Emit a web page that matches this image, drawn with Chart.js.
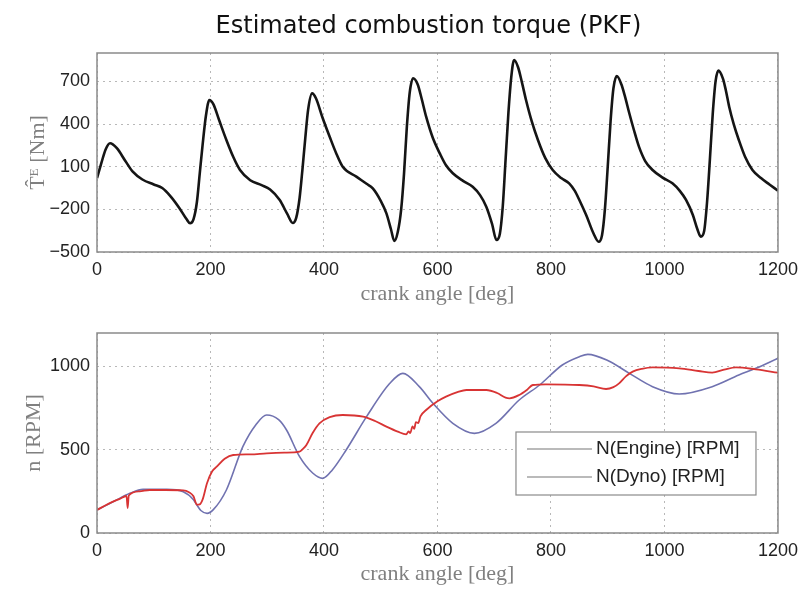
<!DOCTYPE html>
<html>
<head>
<meta charset="utf-8">
<title>Estimated combustion torque (PKF)</title>
<script src="https://cdn.jsdelivr.net/npm/chart.js@4.4.1/dist/chart.umd.min.js"></script>
<style>
  html, body { margin: 0; padding: 0; background: #fff; }
  #wrap { position: relative; width: 805px; height: 590px; }
  canvas { position: absolute; left: 0; }
  #torqueChart { top: 0; }
  #speedChart { top: 310px; }
  #plotTitle {
    position: absolute; left: 0; top: 11px; width: 857px; text-align: center;
    font: 24px/28px "DejaVu Sans", sans-serif; color: #111; white-space: nowrap;
  }
</style>
</head>
<body>
<div id="wrap">
  <canvas id="torqueChart" width="805" height="310"></canvas>
  <canvas id="speedChart" width="805" height="280"></canvas>
  <div id="plotTitle">Estimated combustion torque (PKF)</div>
</div>
<script>
// --- data ---
const angleTicks = [0, 200, 400, 600, 800, 1000, 1200];
const torqueTicks = [-500, -200, 100, 400, 700];
const rpmTicks = [0, 500, 1000];

// estimated combustion torque [Nm] vs crank angle [deg]
const torqueAngle = [0, 8, 15, 23, 35, 50, 63, 80, 100, 115, 130, 145, 158, 164,
  170, 176, 181, 186, 192, 198, 205, 215, 228, 240, 252, 270, 290, 305, 322, 335, 345,
  351, 357, 362, 367, 372, 379, 386, 397, 410, 422, 433, 457, 475, 486, 500, 510, 518, 524,
  530, 536, 541, 546, 551, 557, 565, 572, 580, 592, 604, 615, 627, 645, 662, 675, 686, 696, 704,
  710, 715, 720, 725, 730, 735, 742, 749, 756, 766, 777, 790, 803, 818, 832, 842, 850, 862, 875, 884,
  890, 895, 900, 905, 910, 916, 924, 930, 938, 946, 955, 966, 979, 996, 1014, 1027, 1038, 1050, 1058, 1064,
  1070, 1075, 1080, 1085, 1090, 1095, 1103, 1108, 1114, 1122, 1131, 1142, 1155, 1170, 1185, 1200];
const torqueVal = [20, 130, 220, 265, 230, 140, 65, 10, -25, -50, -110, -190, -270, -298,
  -270, -150, 50, 250, 460, 569, 540, 430, 288, 170, 77, 5, -30, -60, -134, -230, -296,
  -260, -120, 80, 300, 500, 616, 580, 450, 311, 190, 100, 30, -20, -52, -140, -228, -340, -423,
  -360, -200, 50, 380, 620, 722, 680, 580, 452, 300, 194, 110, 54, 0, -41, -100, -181, -300, -416,
  -370, -180, 150, 480, 730, 851, 800, 690, 569, 420, 288, 160, 77, 20, -17, -70, -134, -240, -370, -428,
  -380, -200, 100, 420, 650, 738, 680, 600, 476, 360, 241, 140, 77, 25, -17, -70, -134, -240, -340, -392,
  -350, -150, 150, 470, 700, 776, 720, 640, 522, 400, 288, 170, 77, 20, -25, -69];

// engine speed [RPM]
const engineAngle = [0, 20, 40, 52, 54, 56, 75, 93, 120, 152, 162, 170, 176, 181, 186, 194, 203, 211, 225, 240,
  270, 299, 330, 357, 363, 369, 380, 392, 410, 433, 469, 490, 510, 530, 545, 549, 552, 556, 559, 562, 566, 570,
  580, 600, 615, 635, 651, 686, 705, 720, 727, 744, 758, 768, 791, 850, 875, 897, 910, 920, 932, 944, 960, 979,
  1026, 1060, 1084, 1105, 1126, 1161, 1200];
const engineRpm = [138, 175, 205, 222, 150, 225, 250, 258, 258, 256, 245, 220, 170, 172, 200, 300, 370, 398, 445, 468,
  472, 478, 482, 488, 505, 528, 600, 658, 695, 708, 698, 672, 638, 608, 592, 610, 600, 640, 625, 665, 660, 700,
  738, 790, 818, 845, 858, 858, 840, 812, 808, 828, 860, 888, 892, 888, 880, 864, 875, 898, 940, 968, 985, 994,
  988, 972, 962, 980, 994, 982, 962];

// dyno speed [RPM]
const dynoAngle = [0, 30, 58, 81, 123, 152, 170, 176, 183, 194, 205, 228, 257, 280, 299, 320, 334, 357, 380, 398,
  415, 439, 475, 516, 539, 568, 592, 627, 665, 703, 744, 780, 820, 850, 865, 900, 938, 979, 1026, 1084, 1131, 1161, 1200];
const dynoRpm = [138, 190, 238, 262, 262, 248, 200, 168, 135, 118, 140, 258, 518, 650, 708, 680, 618, 458, 360, 328,
  380, 498, 698, 898, 958, 878, 778, 658, 598, 658, 798, 888, 1008, 1058, 1072, 1035, 958, 878, 834, 878, 948, 988, 1048];

const pts = (xs, ys) => xs.map((x, i) => ({ x, y: ys[i] }));

// --- shared look ---
const tickFont = { family: 'Liberation Sans', size: 18 };
const labelFont = { family: 'Liberation Serif', size: 22 };
const gridCol = '#b8b8b8';
const plainNum = v => String(v).replace('-', '\u2212');

// draw the full box round the plot area, like matlab
const frame = {
  id: 'frame',
  afterDraw(chart) {
    const { ctx, chartArea: a } = chart;
    ctx.save();
    ctx.strokeStyle = '#8a8a8a';
    ctx.lineWidth = 1.5;
    ctx.strokeRect(a.left, a.top, a.right - a.left, a.bottom - a.top);
    ctx.restore();
  }
};

// legend box sitting inside the lower right of the plot
const boxLegend = {
  id: 'boxLegend',
  afterDraw(chart) {
    const { ctx, chartArea: a } = chart;
    const w = 240, h = 63;
    const left = a.right - 22 - w, top = a.bottom - 38 - h;
    ctx.save();
    ctx.fillStyle = '#fff';
    ctx.fillRect(left, top, w, h);
    ctx.strokeStyle = '#8a8a8a';
    ctx.lineWidth = 1.2;
    ctx.strokeRect(left, top, w, h);
    ctx.font = '19px "Liberation Sans"';
    ctx.textBaseline = 'middle';
    ctx.fillStyle = '#222';
    chart.data.datasets.forEach((ds, i) => {
      const y = top + 17 + i * 28;
      ctx.strokeStyle = '#777';
      ctx.lineWidth = 1.2;
      ctx.beginPath();
      ctx.moveTo(left + 11, y);
      ctx.lineTo(left + 76, y);
      ctx.stroke();
      ctx.fillText(ds.label, left + 80, y);
    });
    ctx.restore();
  }
};

function xAxis(h) {
  return {
    type: 'linear', min: 0, max: 1200,
    afterBuildTicks: s => { s.ticks = angleTicks.map(v => ({ value: v })); },
    afterFit: s => { s.height = h; },
    grid: { color: gridCol, drawTicks: false },
    border: { display: false, dash: [2, 4] },
    ticks: { font: tickFont, color: '#222', padding: 7, maxRotation: 0, callback: plainNum },
    title: { display: true, text: 'crank angle [deg]', font: labelFont, color: '#808080', padding: { top: 0, bottom: 3 } }
  };
}

function yAxis(min, max, vals, label, pad) {
  return {
    min, max,
    afterBuildTicks: s => { s.ticks = vals.map(v => ({ value: v })); },
    afterFit: s => { s.width = 97; },
    grid: { color: gridCol, drawTicks: false },
    border: { display: false, dash: [2, 4] },
    ticks: { font: tickFont, color: '#222', padding: 7, callback: plainNum },
    title: { display: true, text: label, font: labelFont, color: '#808080', padding: { top: pad, bottom: 0 } }
  };
}

new Chart(document.getElementById('torqueChart'), {
  type: 'line',
  data: {
    datasets: [{
      label: 'torque',
      data: pts(torqueAngle, torqueVal),
      borderColor: '#151515', borderWidth: 2.6,
      pointRadius: 0, cubicInterpolationMode: 'monotone'
    }]
  },
  options: {
    responsive: false, animation: false, events: [],
    layout: { padding: { left: 0, right: 26, top: 53, bottom: 0 } },
    plugins: { legend: { display: false }, tooltip: { enabled: false } },
    scales: {
      x: xAxis(58),
      y: yAxis(-500, 900, torqueTicks, 'T\u0302\u1D31 [Nm]', 25)
    }
  },
  plugins: [frame]
});

new Chart(document.getElementById('speedChart'), {
  type: 'line',
  data: {
    datasets: [
      {
        label: 'N(Engine) [RPM]',
        data: pts(engineAngle, engineRpm),
        borderColor: '#d83434', borderWidth: 1.8,
        pointRadius: 0, cubicInterpolationMode: 'monotone'
      },
      {
        label: 'N(Dyno) [RPM]',
        data: pts(dynoAngle, dynoRpm),
        borderColor: '#7072b0', borderWidth: 1.6,
        pointRadius: 0, cubicInterpolationMode: 'monotone'
      }
    ]
  },
  options: {
    responsive: false, animation: false, events: [],
    layout: { padding: { left: 0, right: 26, top: 23, bottom: 0 } },
    plugins: { legend: { display: false }, tooltip: { enabled: false } },
    scales: {
      x: xAxis(57),
      y: yAxis(0, 1200, rpmTicks, 'n [RPM]', 21)
    }
  },
  plugins: [frame, boxLegend]
});
</script>
</body>
</html>
